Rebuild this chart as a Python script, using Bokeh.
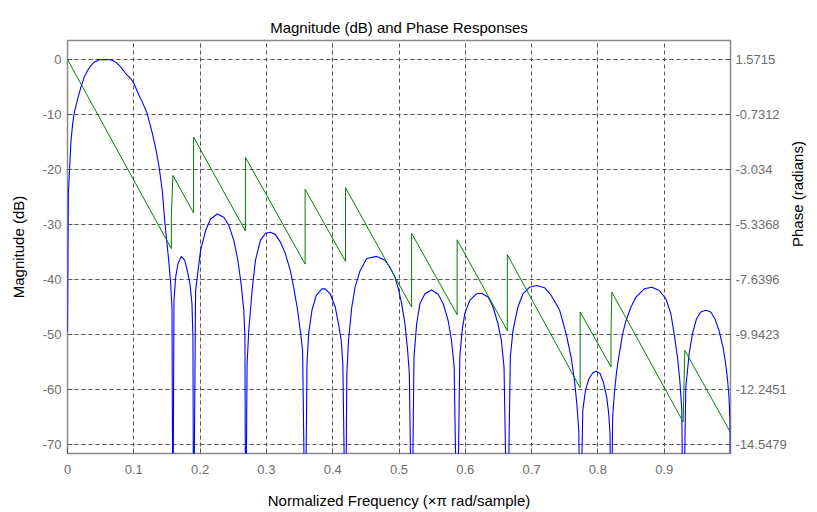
import math
from bokeh.plotting import figure
from bokeh.models import Range1d, LinearAxis, FixedTicker, NumeralTickFormatter, Grid
from bokeh.embed import file_html
from bokeh.resources import INLINE

# ---- data ----
mag_freq = [
    0.0, 0.00125, 0.0028, 0.0053, 0.0078, 0.0103, 0.0153, 0.0203, 0.0253, 0.0303, 0.0353, 0.0404,
    0.0479, 0.0579, 0.0654, 0.0729, 0.0805, 0.088, 0.0955, 0.1005, 0.1055, 0.113, 0.1195, 0.123,
    0.1281, 0.1331, 0.1381, 0.1431, 0.147, 0.1506, 0.1531, 0.1556, 0.1576, 0.159,
    0.1606, 0.1631, 0.1667, 0.1717, 0.1767, 0.1807, 0.1847, 0.1877, 0.1892, 0.1902,
    0.1932, 0.1957, 0.2007, 0.2083, 0.2158, 0.2258, 0.2358, 0.2434, 0.2509, 0.2569, 0.2619, 0.2659, 0.2676, 0.2688,
    0.2709, 0.2734, 0.2784, 0.2835, 0.291, 0.2985, 0.306, 0.3135, 0.3211, 0.3286, 0.3361, 0.3411, 0.3471, 0.3511, 0.3546, 0.3586,
    0.3612, 0.3637, 0.3687, 0.3752, 0.3837, 0.3887, 0.3962, 0.4038, 0.4088, 0.4128, 0.4153, 0.4193,
    0.4213, 0.4238, 0.4288, 0.4338, 0.4413, 0.4514, 0.4664, 0.4789, 0.4865, 0.494, 0.499, 0.504, 0.509, 0.5126, 0.5156, 0.5193,
    0.5226, 0.5266, 0.5316, 0.5391, 0.5491, 0.5591, 0.5667, 0.5742, 0.5792, 0.5832, 0.5877,
    0.5917, 0.5952, 0.5992, 0.6068, 0.6168, 0.6243, 0.6343, 0.6419, 0.6494, 0.6544, 0.6584, 0.6634,
    0.6679, 0.6719, 0.6794, 0.687, 0.697, 0.708, 0.7195, 0.7296, 0.7421, 0.7521, 0.7596, 0.7647, 0.7682, 0.7712, 0.7732,
    0.7772, 0.7812, 0.7862, 0.7922, 0.7972, 0.8033, 0.8083, 0.8133, 0.8163, 0.8183, 0.8198,
    0.8223, 0.8248, 0.8283, 0.8323, 0.8373, 0.8424, 0.8499, 0.8574, 0.8699, 0.8815, 0.8925, 0.9025, 0.91, 0.915, 0.92, 0.9236, 0.9266, 0.9286,
    0.9326, 0.9351, 0.9376, 0.9426, 0.9486, 0.9551, 0.9627, 0.9702, 0.9767, 0.9827, 0.9887, 0.9927, 0.9957, 0.9977, 0.9992, 1.0,
]
mag_db = [
    -49.6, -24.4, -20.8, -14.7, -11.7, -9.6, -7.2, -5.0, -3.2, -2.0, -1.1, -0.5,
    -0.06, 0.0, -0.06, -0.5, -1.4, -2.6, -3.5, -4.4, -5.9, -7.8, -9.6, -11.1,
    -13.5, -16.2, -19.5, -24.0, -29.8, -34.1, -37.1, -40.8, -45.0, -90.0,
    -43.8, -39.6, -37.1, -35.8, -36.5, -38.4, -40.8, -44.4, -50.5, -90.0,
    -42.0, -39.6, -34.7, -31.1, -29.0, -28.1, -28.7, -30.2, -32.9, -36.5, -40.8, -45.6, -50.5, -90.0,
    -55.3, -49.3, -42.0, -36.5, -32.9, -31.6, -31.4, -31.8, -33.2, -35.3, -38.4, -41.4, -45.6, -49.3, -52.9, -90.0,
    -55.3, -49.9, -45.6, -42.9, -41.7, -41.7, -42.6, -45.0, -48.1, -51.1, -55.3, -90.0,
    -57.1, -51.1, -45.0, -41.4, -38.4, -36.2, -35.8, -36.5, -37.8, -39.6, -41.7, -44.4, -48.1, -52.3, -57.1, -90.0,
    -54.1, -48.1, -44.4, -42.6, -41.9, -42.7, -44.4, -47.5, -51.1, -55.9, -90.0,
    -54.1, -49.3, -46.2, -43.8, -42.6, -42.5, -43.2, -45.0, -48.1, -51.1, -55.9, -90.0,
    -54.1, -49.3, -45.0, -42.6, -41.4, -41.1, -41.5, -42.9, -45.5, -49.9, -54.1, -58.4, -62.6, -67.5, -90.0,
    -63.8, -60.2, -58.1, -57.0, -56.7, -57.1, -58.7, -61.4, -64.4, -68.0, -90.0,
    -65.0, -60.8, -56.6, -53.5, -49.9, -47.5, -45.0, -43.2, -41.7, -41.4, -42.0, -43.5, -46.2, -49.9, -54.1, -58.4, -63.8, -90.0,
    -59.6, -56.6, -53.5, -49.9, -47.2, -45.9, -45.6, -45.9, -47.2, -49.3, -52.3, -55.3, -58.4, -61.4, -65.6, -90.0,
]

phase_freq = [0.0, 0.1567, 0.1567, 0.159, 0.1902, 0.1902, 0.2684, 0.2684, 0.3584, 0.3584,
              0.4193, 0.4193, 0.519, 0.519, 0.5877, 0.5877, 0.6634, 0.6634, 0.7732, 0.7732,
              0.8198, 0.8198, 0.821, 0.9286, 0.9311, 1.0]
phase_rad = [1.5715, -6.350, -4.899, -3.287, -4.853, -1.675, -5.613, -2.527, -6.995, -3.863,
             -6.879, -3.794, -8.791, -5.705, -9.113, -5.981, -9.781, -6.603, -12.176, -8.998,
             -11.301, -9.781, -8.169, -13.603, -10.610, -14.041]

x_ticks = [0, 0.1, 0.2, 0.3, 0.4, 0.5, 0.6, 0.7, 0.8, 0.9]
db_ticks = [0, -10, -20, -30, -40, -50, -60, -70]
phase_ticks = [1.5715, -0.7312, -3.034, -5.3368, -7.6396, -9.9423, -12.2451, -14.5479]

title_text = "Magnitude (dB) and Phase Responses"
x_label = "Normalized Frequency (\u00d7\u03c0 rad/sample)"
y_label = "Magnitude (dB)"
y2_label = "Phase (radians)"

FONT = "'Liberation Sans Narrow', 'Liberation Sans', Arial, sans-serif"
TICK_COLOR = "#6e6e6e"
GRID_COLOR = "#555555"

p = figure(width=817, height=512, output_backend="svg", toolbar_location=None,
           x_range=Range1d(0, 1.0), y_range=Range1d(-71.64, 3.45),
           min_border_left=67, min_border_right=85, min_border_top=40, min_border_bottom=59,
           x_axis_location=None, y_axis_location=None)
p.extra_y_ranges = {"phase": Range1d(-14.925, 2.366)}

p.title.text = title_text
p.title.align = "center"
p.title.text_font = FONT
p.title.text_font_size = "15px"
p.title.text_font_style = "normal"
p.title.text_color = "#000000"

def style_axis(ax):
    ax.axis_line_color = None
    ax.major_tick_in = 5
    ax.major_tick_out = 0
    ax.minor_tick_line_color = None
    ax.major_tick_line_color = "#555555"
    ax.major_label_text_font = FONT
    ax.major_label_text_font_size = "13px"
    ax.major_label_text_color = TICK_COLOR
    ax.axis_label_text_font = FONT
    ax.axis_label_text_font_size = "15px"
    ax.axis_label_text_font_style = "normal"
    ax.axis_label_text_color = "#000000"

xb = LinearAxis(ticker=FixedTicker(ticks=x_ticks), axis_label=x_label)
style_axis(xb)
xb.major_label_standoff = 11
xb.axis_label_standoff = 15
p.add_layout(xb, "below")

yl = LinearAxis(ticker=FixedTicker(ticks=db_ticks), formatter=NumeralTickFormatter(format="0"),
                axis_label=y_label)
style_axis(yl)
yl.major_label_standoff = 6
yl.axis_label_standoff = 13
p.add_layout(yl, "left")

yr = LinearAxis(y_range_name="phase", ticker=FixedTicker(ticks=phase_ticks),
                formatter=NumeralTickFormatter(format="0.0[000]"), axis_label=y2_label)
style_axis(yr)
yr.major_label_standoff = 5
yr.axis_label_standoff = 8
try:
    # read bottom-to-top like the reference
    yr.axis_label_orientation = math.pi / 2
except Exception:
    pass
p.add_layout(yr, "right")

p.add_layout(Grid(dimension=0, ticker=xb.ticker, grid_line_color=GRID_COLOR, grid_line_dash="4 3", grid_line_width=1))
p.add_layout(Grid(dimension=1, ticker=yl.ticker, grid_line_color=GRID_COLOR, grid_line_dash="4 3", grid_line_width=1))

p.outline_line_color = "#8a8a8a"
p.outline_line_width = 1.5
p.background_fill_color = "#ffffff"
p.border_fill_color = "#ffffff"

p.line(mag_freq, mag_db, line_color="#0000ff", line_width=1.1)
p.line(phase_freq, phase_rad, y_range_name="phase", line_color="#008000", line_width=1)

open("out.html", "w").write(file_html(p, INLINE))
